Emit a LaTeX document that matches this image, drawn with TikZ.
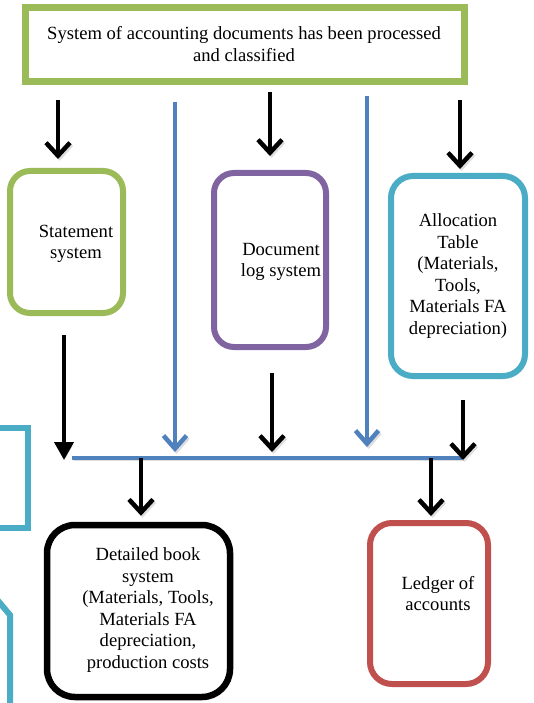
\documentclass[tikz,border=0pt]{standalone}
\usepackage{fontspec}
\setmainfont{Liberation Serif}
\usetikzlibrary{arrows.meta}
\definecolor{ogreen}{HTML}{9BBB59}
\definecolor{opurple}{HTML}{8064A2}
\definecolor{ocyan}{HTML}{4BACC6}
\definecolor{ored}{HTML}{C0504D}
\definecolor{oblue}{HTML}{4F81BD}
\begin{document}
\begin{tikzpicture}[x=1pt,y=-1pt,
  card/.style={draw, fill=white, line width=6pt, inner sep=0pt},
  txt/.style={font=\fontsize{18.6}{21.5}\selectfont, align=center, inner sep=0pt},
  soft/.style={preaction={draw=black, opacity=0.13, transform canvas={shift={(1.5pt,-2pt)}}}},
  blk/.style={soft, line width=4pt, black, -{Straight Barb[length=13pt,width=24pt,line width=4.5pt]}},
  blkfill/.style={soft, line width=4pt, black, -{Triangle[length=18pt,width=19pt]}},
  bl/.style={soft, line width=4pt, oblue},
  blarrow/.style={bl, -{Straight Barb[length=13pt,width=23pt,line width=4.5pt]}}]
\useasboundingbox (0,0) rectangle (534,703);

% partial shapes at the left edge
\draw[ocyan, line width=6pt] (-10,428) -- (28,428) -- (28,528) -- (-10,528);
\draw[ocyan, line width=6pt] (-6,596) -- (10,615) -- (10,712);

% header box
\node[card, draw=ogreen, line width=7pt, rounded corners=0pt,
      minimum width=439pt, minimum height=74pt] (top) at (245,45) {};
\node[txt] (toptxt) at (244,44) {System of accounting documents has been processed\\and classified};

% source boxes
\node[card, draw=ogreen, rounded corners=20pt,
      minimum width=113pt, minimum height=142pt] (stmt) at (66.5,242) {};
\node[txt] (stmttxt) at (76,244) {Statement\\system};

\node[card, draw=opurple, rounded corners=20pt,
      minimum width=112pt, minimum height=174pt] (doc) at (270,260) {};
\node[txt] (doctxt) at (281,262) {Document\\log system};

\node[card, draw=ocyan, rounded corners=22pt,
      minimum width=134pt, minimum height=200pt] (alloc) at (458,276) {};
\node[txt] (alloctxt) at (458,276) {Allocation\\Table\\(Materials,\\Tools,\\Materials FA\\depreciation)};

% target boxes
\node[card, draw=black, line width=6.5pt, rounded corners=28pt,
      minimum width=183pt, minimum height=172pt] (det) at (138.5,611) {};
\node[txt] (dettxt) at (148,610) {Detailed book\\system\\(Materials, Tools,\\Materials FA\\depreciation,\\production costs};

\node[card, draw=ored, rounded corners=22pt,
      minimum width=118pt, minimum height=161pt] (ledg) at (429,603.5) {};
\node[txt] (ledgtxt) at (438,593.5) {Ledger of\\accounts};

% free ends of the connectors
\coordinate (b1) at (58,100);
\coordinate (u1) at (175,102);
\coordinate (b2) at (270,92);
\coordinate (u2) at (367,96);
\coordinate (b3) at (460,100);
\coordinate (c1) at (64,335);
\coordinate (c2) at (272,373);
\coordinate (c3) at (463,400);
\coordinate (busL) at (72,458);
\coordinate (busR) at (462,458);
\coordinate (d1) at (141,458);
\coordinate (d2) at (431,458);

% collecting bus
\draw[bl] (busL) -- (busR);

% arrows from the header
\draw[blk, shorten >=9pt] (b1) -- (b1 |- stmt.north);
\draw[blarrow, shorten >=6pt] (u1) -- (u1 |- busL);
\draw[blk, shorten >=14pt] (b2) -- (b2 |- doc.north);
\draw[blarrow, shorten >=11pt] (u2) -- (u2 |- busL);
\draw[blk, shorten >=4pt] (b3) -- (b3 |- alloc.north);

% arrows into the bus
\draw[blkfill, shorten >=-2pt] (c1) -- (c1 |- busL);
\draw[blk, shorten >=6pt] (c2) -- (c2 |- busL);
\draw[blk, shorten >=-2pt] (c3) -- (c3 |- busL);

% arrows out of the bus
\draw[blk, shorten >=6pt] (d1) -- (d1 |- det.north);
\draw[blk, shorten >=4pt] (d2) -- (d2 |- ledg.north);
\end{tikzpicture}
\end{document}
